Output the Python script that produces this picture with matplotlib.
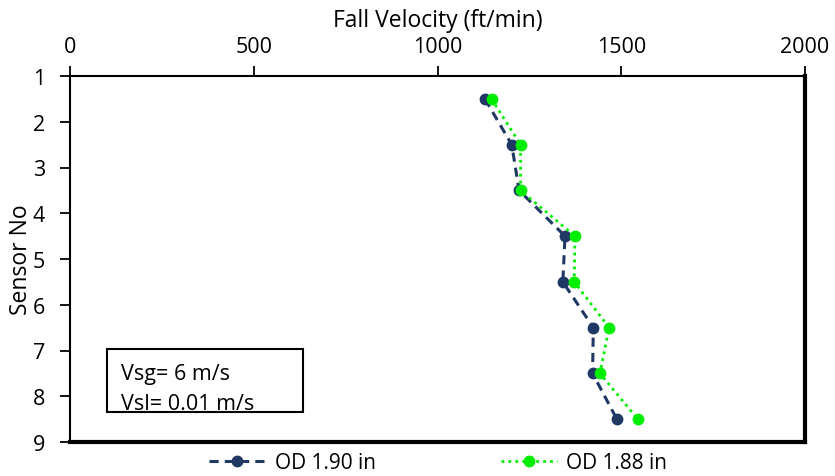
import numpy as np
import matplotlib.pyplot as plt
from matplotlib.patches import Rectangle

plt.rcParams['font.family'] = ['Open Sans', 'DejaVu Sans']

# sensor positions (between sensors)
sensor_pos = [1.5, 2.5, 3.5, 4.5, 5.5, 6.5, 7.5, 8.5]

# fall velocity (ft/min)
vel_190 = [1129, 1202, 1222, 1347, 1341, 1424, 1422, 1488]
vel_188 = [1147, 1226, 1226, 1374, 1372, 1467, 1442, 1545]

navy = "#203864"
lime = "#00EE00"

fig = plt.figure(figsize=(8.35, 4.77), dpi=100)
ax = fig.add_axes([70/835, 1-443/477, (805-70)/835, (443-77)/477])

ax.plot(vel_190, sensor_pos, ls=(0, (3, 2)), lw=2.2, color=navy,
        marker="o", ms=7.5, label="OD 1.90 in")
ax.plot(vel_188, sensor_pos, ls=(0, (1, 1.5)), lw=2.0, color=lime,
        marker="o", ms=7.5, label="OD 1.88 in")

ax.set_xlim(0, 2000)
ax.set_ylim(9, 1)
ax.set_xticks([0, 500, 1000, 1500, 2000])
ax.set_yticks(range(1, 10))
ax.xaxis.tick_top()
ax.xaxis.set_label_position("top")
ax.tick_params(axis="both", direction="out", length=7, width=1.3,
               labelsize=15.5, colors="black", pad=11)
ax.tick_params(axis="x", pad=7)
ax.set_xlabel("Fall Velocity (ft/min)", fontsize=16.5)
ax.set_ylabel("Sensor No", fontsize=16.5)
ax.xaxis.set_label_coords(0.5, 1.137)
ax.yaxis.set_label_coords(-0.05, 0.5)

for s in ["left", "top"]:
    ax.spines[s].set_linewidth(1.5)
for s in ["right", "bottom"]:
    ax.spines[s].set_linewidth(3)

# annotation box
fig.patches.append(Rectangle((107/835, 1-413/477), 196/835, 63/477,
                             transform=fig.transFigure, fc="white",
                             ec="black", lw=1.5, zorder=5))
fig.text(121/835, 1-380/477, "Vsg= 6 m/s", fontsize=15.5, va="baseline",
         zorder=6)
fig.text(121/835, 1-410/477, "Vsl= 0.01 m/s", fontsize=15.5, va="baseline",
         zorder=6)

fig.legend(loc="center", bbox_to_anchor=(0.525, 1-464/477), ncol=2,
           frameon=False, fontsize=15, handlelength=2.7, columnspacing=6.0,
           handletextpad=0.45, borderpad=0)

fig.savefig("out.png", dpi=100)
